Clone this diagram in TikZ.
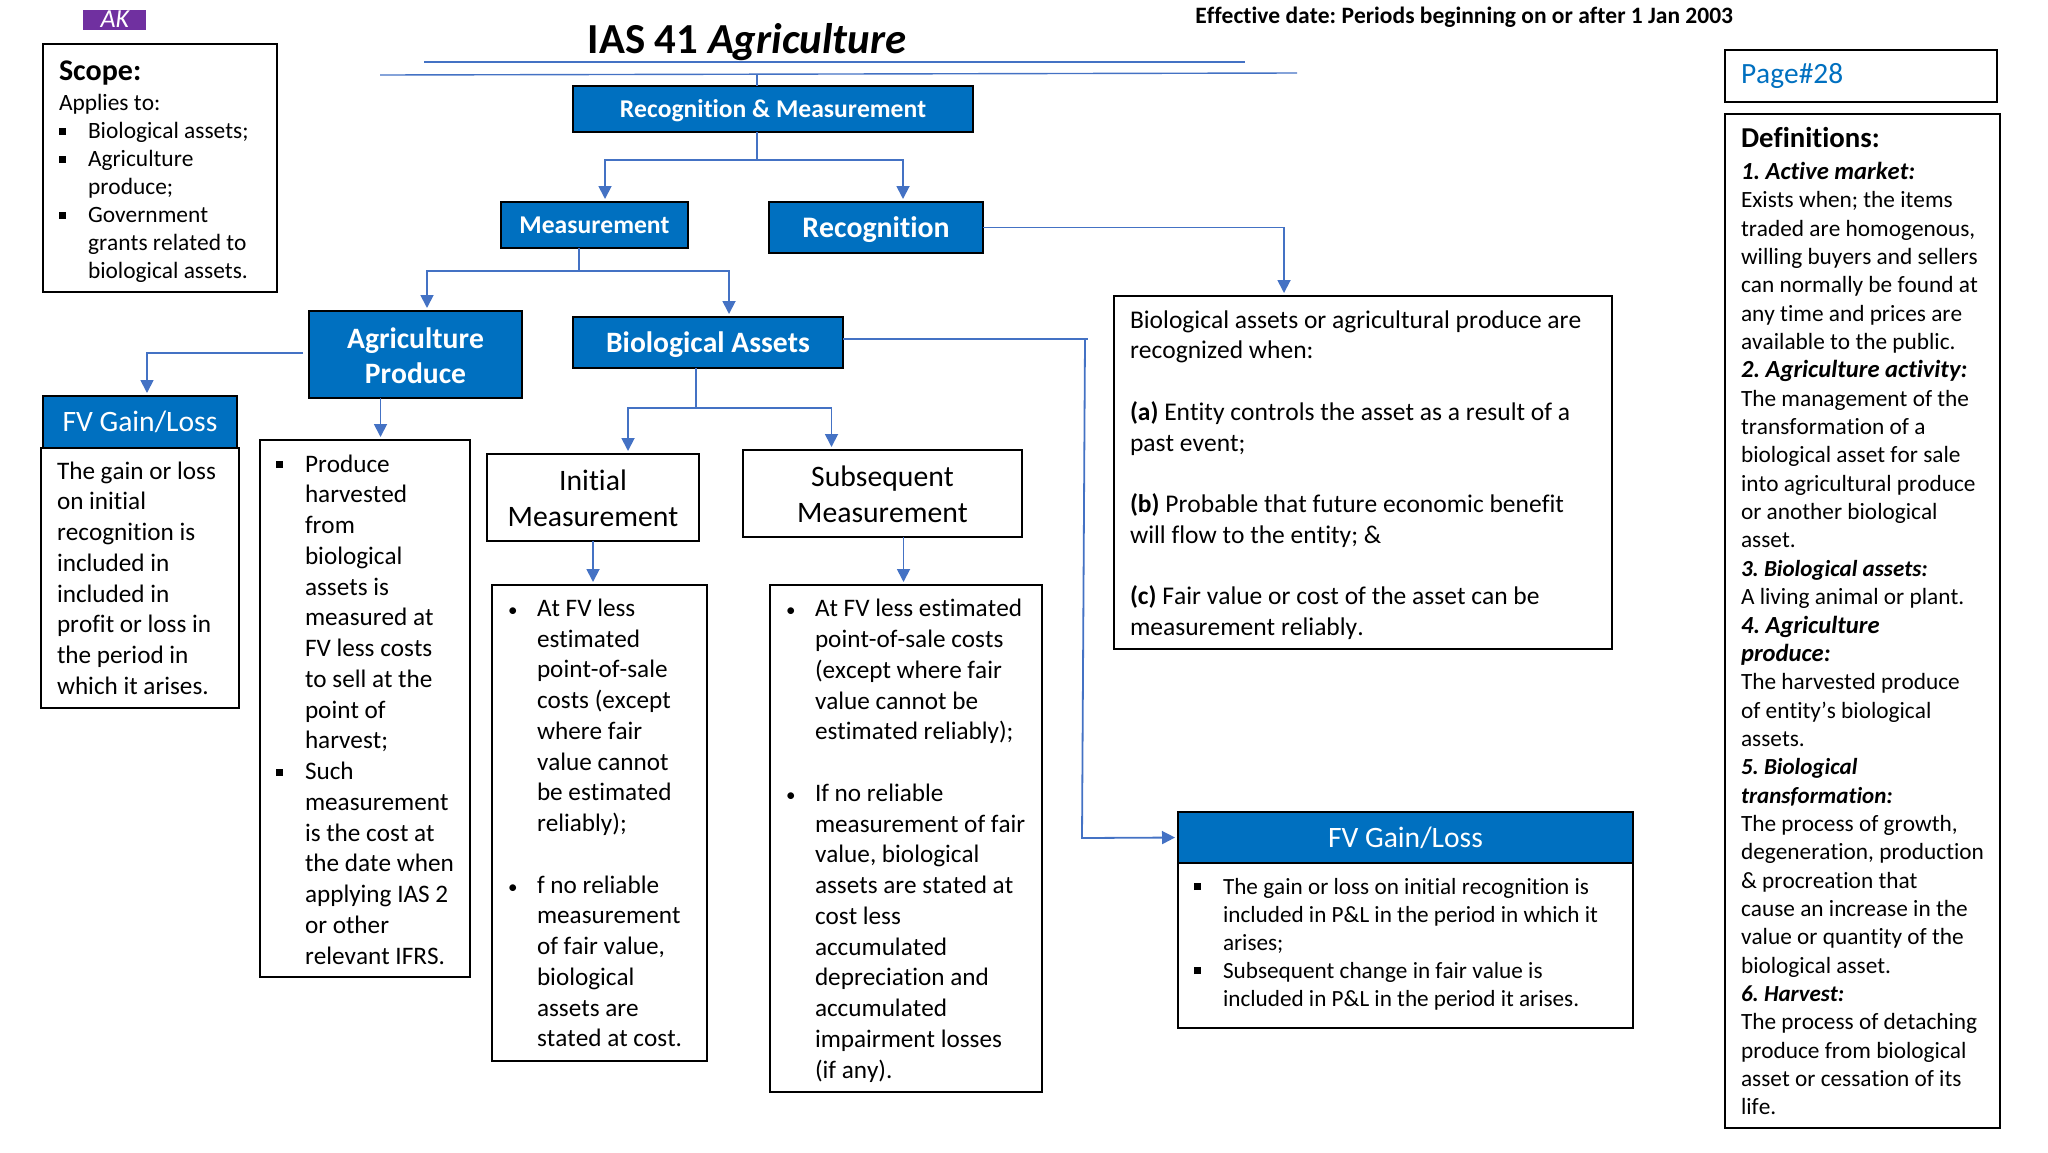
\documentclass[tikz,border=0pt]{standalone}
\usepackage{fontspec}
\setmainfont{Carlito}[Ligatures=CommonOff, Kerning=Off]
\usepackage{xcolor}
\usetikzlibrary{arrows.meta,positioning,calc}
\definecolor{cHead}{HTML}{0070C0}
\definecolor{cLine}{HTML}{4472C4}
\definecolor{cLogo}{HTML}{7030A0}
\newcommand{\fs}[2]{\fontsize{#1pt}{#2pt}\selectfont\frenchspacing\spaceskip=0.226em\relax}
\newcommand{\dn}[1]{\par\nointerlineskip\vskip -#1pt\hbox{}}
\newcommand{\sqb}{\makebox[14.5pt][l]{\rule[2pt]{3.4pt}{3.4pt}}}
\newcommand{\rdb}{\makebox[14.5pt][l]{{\fs{9.5}{9.5}\textbullet}}}
\newcommand{\ind}{\hspace*{14.5pt}}
\tikzset{
  head/.style 2 args={draw=black, line width=1.4pt, fill=cHead, text=white, anchor=north west, outer sep=0pt, inner sep=0pt,
              align=center, text width=#1*0.5pt, minimum height=#2*0.5pt, execute at begin node={\spaceskip=0.226em\relax}},
  plain/.style 2 args={head={#1}{#2}, fill=white, text=black},
  txtbox/.style 2 args={draw=black, line width=1.4pt, fill=white, anchor=north west, outer sep=0pt,
              inner xsep=8pt, inner ysep=0pt, align=left, text width=#1*0.5pt-16pt, minimum height=#2*0.5pt, font=\fs{12.6}{15.38},
              execute at begin node={\spaceskip=0.226em\relax}},
  arr/.style={-{Triangle[length=6.5pt,width=6.5pt]}, line width=0.9pt, cLine, shorten >=1.5pt},
  wire/.style={line width=0.7pt, cLine}
}
\begin{document}
\begin{tikzpicture}[x=0.5pt, y=-0.5pt]
\useasboundingbox (0,0) rectangle (2048,1152);
% top of the page
\node[fill=cLogo, text=white, anchor=north west, inner sep=0pt, minimum width=31.5pt, minimum height=10pt, text height=8pt, text depth=1pt, font=\fs{13}{13}\itshape] (logo) at (83,10) {AK};
\node[font=\fs{21.4}{24}\bfseries, inner sep=0pt] (title) at (747,42) {IAS 41 \textit{Agriculture}};
\node[anchor=west, inner sep=0pt, font=\fs{11.75}{14}\bfseries] (effdate) at (1195,17) {Effective date: Periods beginning on or after 1 Jan 2003};
\coordinate (rulea) at (424,62);
\coordinate (ruleb) at (1245,62);
\coordinate (rulec) at (380,75);
\coordinate (ruled) at (1297,73);
\draw[wire] (rulea) -- (ruleb);
\draw[wire] (rulec) -- (ruled);
% scope and page
\node[txtbox={234}{248}, font=\fs{11.7}{14}] (scope) at (43,44) {{\fs{15}{17}\bfseries Scope:}\\[1pt]
Applies to:\\
\sqb Biological assets;\\
\sqb Agriculture\\
\ind produce;\\
\sqb Government\\
\ind grants related to\\
\ind biological assets.\dn{4}};
\node[txtbox={272}{52}, font=\fs{14.7}{17}, text=cHead] (page) at (1725,50) {Page\#28};
\node[txtbox={275}{1014}, font=\fs{11.65}{14.17}] (defs) at (1725,114) {{\fs{14.4}{16}\bfseries Definitions:}\\[2pt]
{\bfseries\itshape\fs{12.3}{14.17} 1. Active market:}\\
Exists when; the items\\
traded are homogenous,\\
willing buyers and sellers\\
can normally be found at\\
any time and prices are\\
available to the public.\\
{\bfseries\itshape\fs{12.3}{14.17} 2. Agriculture activity:}\\
The management of the\\
transformation of a\\
biological asset for sale\\
into agricultural produce\\
or another biological\\
asset.\\
{\bfseries\itshape\fs{11.5}{14.17} 3. Biological assets:}\\
A living animal or plant.\\
{\bfseries\itshape\fs{12.3}{14.17} 4. Agriculture}\\
{\bfseries\itshape\fs{12.3}{14.17} produce:}\\
The harvested produce\\
of entity’s biological\\
assets.\\
{\bfseries\itshape\fs{11.5}{14.17} 5. Biological}\\
{\bfseries\itshape\fs{11.5}{14.17} transformation:}\\
The process of growth,\\
\mbox{degeneration, production}\\
\& procreation that\\
cause an increase in the\\
value or quantity of the\\
biological asset.\\
{\bfseries\itshape\fs{11.5}{14.17} 6. Harvest:}\\
The process of detaching\\
produce from biological\\
asset or cessation of its\\
life.};
% headings
\node[head={400}{46}, font=\fs{12.8}{15}\bfseries] (recmeas) at (573,86) {Recognition \& Measurement\dn{1.2}};
\node[head={187}{46}, font=\fs{12.8}{15}\bfseries] (meas) at (501,202) {Measurement\dn{1.2}};
\node[head={214}{51}, font=\fs{14.9}{17}\bfseries] (recog) at (769,202) {Recognition\dn{2.5}};
\node[head={213}{87}, font=\fs{14.8}{17.8}\bfseries] (agri) at (309,311) {Agriculture\\Produce\dn{1.2}};
\node[head={270}{51}, font=\fs{14.8}{17}\bfseries] (bio) at (573,317) {Biological Assets\dn{3}};
\node[head={194}{52}, font=\fs{14.8}{17}] (fvleft) at (43,396) {FV Gain/Loss};
\node[plain={212}{87}, font=\fs{14.85}{17.8}] (initm) at (487,454) {Initial\\Measurement\dn{0.6}};
\node[plain={279}{87}, font=\fs{14.85}{17.8}] (subm) at (743,450) {Subsequent\\Measurement\dn{0.6}};
\node[head={455}{51}, font=\fs{14.8}{17}] (fvright) at (1178,812) {FV Gain/Loss\dn{3.5}};
% text boxes
\node[txtbox={198}{260}] (fvlefttxt) at (41,448) {The gain or loss\\
on initial\\
recognition is\\
included in\\
included in\\
profit or loss in\\
the period in\\
which it arises.};
\node[txtbox={210}{537}] (agritxt) at (260,440) {\sqb Produce\\
\ind harvested\\
\ind from\\
\ind biological\\
\ind assets is\\
\ind measured at\\
\ind FV less costs\\
\ind to sell at the\\
\ind point of\\
\ind harvest;\\
\sqb Such\\
\ind measurement\\
\ind is the cost at\\
\mbox{\ind the date when}\\
\mbox{\ind applying IAS 2}\\
\ind or other\\
\ind relevant IFRS.\dn{1}};
\node[txtbox={215}{476}] (initxt) at (492,585) {\rdb At FV less\\
\ind estimated\\
\ind point-of-sale\\
\ind costs (except\\
\ind where fair\\
\ind value cannot\\
\ind be estimated\\
\ind reliably);\\
~\\
\rdb f no reliable\\
\ind measurement\\
\ind of fair value,\\
\ind biological\\
\ind assets are\\
\mbox{\ind stated at cost.}};
\node[txtbox={272}{507}] (subtxt) at (770,585) {\mbox{\rdb At FV less estimated}\\
\ind point-of-sale costs\\
\ind (except where fair\\
\ind value cannot be\\
\ind estimated reliably);\\
~\\
\rdb If no reliable\\
\mbox{\ind measurement of fair}\\
\ind value, biological\\
\ind assets are stated at\\
\ind cost less\\
\ind accumulated\\
\ind depreciation and\\
\ind accumulated\\
\ind impairment losses\\
\ind (if any).\dn{2.2}};
\node[txtbox={498}{353}, font=\fs{12.75}{15.38}] (rectxt) at (1114,296) {Biological assets or agricultural produce are\\
recognized when:\\
~\\
\textbf{(a)} Entity controls the asset as a result of a\\
past event;\\
~\\
\textbf{(b)} Probable that future economic benefit\\
will flow to the entity; \&\\
~\\
\textbf{(c)} Fair value or cost of the asset can be\\
measurement reliably.\dn{2.6}};
\node[txtbox={455}{165}, font=\fs{11.6}{14}] (fvrighttxt) at (1178,863) {\sqb The gain or loss on initial recognition is\\
\ind included in P\&L in the period in which it\\
\ind arises;\\
\sqb Subsequent change in fair value is\\
\ind included in P\&L in the period it arises.\dn{-1.5}};
% connectors
\coordinate (rmjoin) at (757,160);
\coordinate (mjoin) at (579,271);
\coordinate (bjoin) at (696,408);
\coordinate (agriout) at (303,353);
\coordinate (biotop) at (1088,339);
\coordinate (biomid) at (1085,339);
\coordinate (biolow) at (1082,838);
\draw[wire] (rmjoin |- rulec) -- (rmjoin |- recmeas.north);
\draw[wire] (rmjoin |- recmeas.south) -- (rmjoin);
\draw[arr] (rmjoin) -| ([xshift=5.25pt]meas.north);
\draw[arr] (rmjoin) -| ([xshift=13.5pt]recog.north);
\draw[wire] (mjoin |- meas.south) -- (mjoin);
\draw[arr] (mjoin) -| ([xshift=5.75pt]agri.north);
\draw[arr] (mjoin) -| ([xshift=10.5pt]bio.north);
\draw[arr] (recog.east) -| ([xshift=-39.5pt]rectxt.north);
\draw[arr] (agriout) -| ([xshift=3.5pt]fvleft.north);
\draw[arr] ([xshift=-17.5pt]agri.south) -- ([xshift=-17.5pt]agri.south |- agritxt.north);
\draw[wire] (bjoin |- bio.south) -- (bjoin);
\draw[arr] (bjoin) -| ([xshift=17.5pt]initm.north);
\draw[arr] (bjoin) -| ([xshift=-25.5pt]subm.north);
\draw[arr] (initm.south) -- (initm.south |- initxt.north);
\draw[arr] ([xshift=10.5pt]subm.south) -- ([xshift=10.5pt]subm.south |- subtxt.north);
\draw[wire] (bio.east |- biotop) -- (biotop);
\draw[arr] (biomid) -- (biolow) -- (fvright.west);
\end{tikzpicture}
\end{document}
